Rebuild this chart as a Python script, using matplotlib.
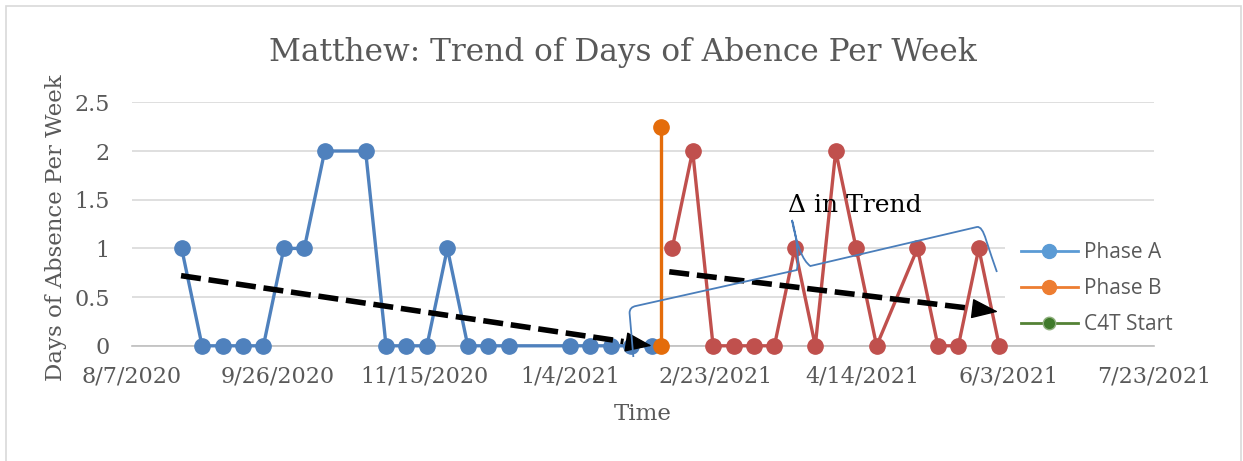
import matplotlib
matplotlib.use("Agg")
import matplotlib.pyplot as plt
import matplotlib.dates as mdates
from matplotlib.lines import Line2D
from matplotlib.path import Path
from matplotlib.patches import PathPatch, Rectangle
from datetime import date, timedelta
import numpy as np

# ---- data ----
phase_a_dates = ["2020-08-24", "2020-08-31", "2020-09-07", "2020-09-14", "2020-09-21",
                 "2020-09-28", "2020-10-05", "2020-10-12", "2020-10-26", "2020-11-02",
                 "2020-11-09", "2020-11-16", "2020-11-23", "2020-11-30", "2020-12-07",
                 "2020-12-14", "2021-01-04", "2021-01-11", "2021-01-18", "2021-01-25",
                 "2021-02-01"]
phase_a_vals = [1, 0, 0, 0, 0, 1, 1, 2, 2, 0, 0, 0, 1, 0, 0, 0, 0, 0, 0, 0, 0]

phase_b_dates = ["2021-02-04", "2021-02-04"]
phase_b_vals = [0, 2.25]

after_dates = ["2021-02-08", "2021-02-15", "2021-02-22", "2021-03-01", "2021-03-08",
               "2021-03-15", "2021-03-22", "2021-03-29", "2021-04-05", "2021-04-12",
               "2021-04-19", "2021-05-03", "2021-05-10", "2021-05-17", "2021-05-24",
               "2021-05-31"]
after_vals = [1, 2, 0, 0, 0, 0, 1, 0, 2, 1, 0, 1, 0, 0, 1, 0]

legend_labels = ["Phase A", "Phase B", "C4T Start"]
y_ticks = [0, 0.5, 1, 1.5, 2, 2.5]

x_start = date(2020, 8, 7)
x_end = date(2021, 7, 23)
tick_step = 50

# trend arrows: (days from x_start, value)
trend1 = [(16.8, 0.72), (178.0, 0.0)]
trend2 = [(184.0, 0.76), (296.6, 0.35)]

BLUE = "#4F81BD"
RED = "#C0504D"
ORANGE = "#E46C0A"
GREY = "#595959"
SERIF = ["DejaVu Serif"]


def to_num(s):
    return mdates.datestr2num(s)


def day_num(d):
    return mdates.date2num(x_start) + d


W, H = 1243, 461
fig = plt.figure(figsize=(W / 100, H / 100), dpi=100)
ax = fig.add_axes([132 / W, 1 - 345.8 / H, (1154 - 132) / W, (345.8 - 102.3) / H])

# chart border
fig.patches.append(Rectangle((6 / W, -0.05), (1241 - 6) / W, 1.05 - 6 / H,
                             transform=fig.transFigure, fill=False,
                             edgecolor="#D9D9D9", lw=1.2))

line_kw = dict(lw=2.4, marker="o", markersize=11, clip_on=False)
ax.plot([to_num(d) for d in phase_a_dates], phase_a_vals, color=BLUE, zorder=3, **line_kw)
ax.plot([to_num(d) for d in after_dates], after_vals, color=RED, zorder=3, **line_kw)
ax.plot([to_num(d) for d in phase_b_dates], phase_b_vals, color=ORANGE, zorder=4, **line_kw)


def trend_arrow(p0, p1):
    x0, y0 = day_num(p0[0]), p0[1]
    x1, y1 = day_num(p1[0]), p1[1]
    f = 0.94
    ax.plot([x0, x0 + f * (x1 - x0)], [y0, y0 + f * (y1 - y0)], color="black",
            lw=4, linestyle=(0, (3.6, 1.4)), dash_capstyle="butt", zorder=6, clip_on=False)
    g = 0.97
    ax.annotate("", xy=(x1, y1), xytext=(x0 + g * (x1 - x0), y0 + g * (y1 - y0)),
                arrowprops=dict(arrowstyle="-|>,head_length=0.85,head_width=0.32",
                                mutation_scale=20, color="black", lw=1,
                                shrinkA=0, shrinkB=0), zorder=6)


trend_arrow(*trend1)
trend_arrow(*trend2)

# curly brace marking the change in trend
brace = [(171.7, -0.115), (170.4, 0.337), (170.4, 0.398), (172.6, 0.409),
         (227.7, 0.778), (228.1, 0.86), (227.7, 1.138), (226.0, 1.292),
         (228.4, 0.901), (232.3, 0.819), (289.4, 1.22), (291.1, 1.23),
         (292.5, 1.086), (294.5, 0.901), (296.2, 0.758)]
codes = [Path.MOVETO, Path.LINETO, Path.CURVE3, Path.CURVE3, Path.LINETO,
         Path.LINETO, Path.CURVE3, Path.CURVE3, Path.CURVE3, Path.CURVE3,
         Path.LINETO, Path.CURVE3, Path.CURVE3, Path.CURVE3, Path.CURVE3]
verts = [(day_num(d), v) for d, v in brace]
ax.add_patch(PathPatch(Path(verts, codes), fill=False, edgecolor="#4A7EBB",
                       lw=1.3, zorder=7, clip_on=False))
ax.text(day_num(224.5), 1.37, "Δ in Trend", family=SERIF, fontsize=18,
        color="black", ha="left", va="baseline", zorder=8)

# axes styling
ax.set_xlim(mdates.date2num(x_start), mdates.date2num(x_end))
ax.set_ylim(0, 2.5)
ticks = [x_start + timedelta(days=k) for k in range(0, (x_end - x_start).days + 1, tick_step)]
ax.set_xticks([mdates.date2num(t) for t in ticks])
ax.set_xticklabels([f"{t.month}/{t.day}/{t.year}" for t in ticks])
ax.set_yticks(y_ticks)
ax.set_yticklabels([f"{v:g}" for v in y_ticks])
for lab in ax.get_xticklabels() + ax.get_yticklabels():
    lab.set_family(SERIF)
    lab.set_fontsize(16)
    lab.set_color(GREY)
ax.tick_params(axis="x", length=0, pad=14)
ax.tick_params(axis="y", length=0, pad=16)
ax.grid(axis="y", color="#D9D9D9", lw=1.2)
ax.set_axisbelow(True)
for s in ["left", "right", "top"]:
    ax.spines[s].set_visible(False)
ax.spines["bottom"].set_color("#BFBFBF")
ax.spines["bottom"].set_linewidth(1.2)
ax.spines["bottom"].set_zorder(1)

fig.text(0.5015, 1 - 61 / H, "Matthew: Trend of Days of Abence Per Week", family=SERIF,
         fontsize=22.5, color=GREY, ha="center", va="baseline")
fig.text(643 / W, 1 - 414 / H, "Time", family=SERIF, fontsize=16.5, color=GREY,
         ha="center", va="center")
fig.text(56 / W, 1 - 228 / H, "Days of Absence Per Week", family=SERIF, fontsize=16.5,
         color=GREY, ha="center", va="center", rotation=90)

# white box behind legend
ax.add_patch(Rectangle((1005 / W, 1 - 338 / H), 0.2, (338 - 228) / H,
                       transform=fig.transFigure, facecolor="white", edgecolor="none",
                       zorder=1, clip_on=False))
handles = [
    Line2D([], [], color="#5B9BD5", lw=2, marker="o", markersize=10),
    Line2D([], [], color="#ED7D31", lw=2, marker="o", markersize=10),
    Line2D([], [], color="#548235", lw=2, marker="o", markersize=9,
           markerfacecolor="#3F7A2A", markeredgecolor="#8FB07E"),
]
leg = ax.legend(handles, legend_labels, loc="center left",
                bbox_to_anchor=(1015 / W, 1 - 289 / H), bbox_transform=fig.transFigure,
                frameon=False, borderaxespad=0, borderpad=0.3, handlelength=2.7,
                handletextpad=0.3, labelspacing=0.72,
                prop={"family": "Open Sans", "size": 15})
for t in leg.get_texts():
    t.set_color(GREY)
leg.set_zorder(9)

fig.savefig("out.png", dpi=100)
